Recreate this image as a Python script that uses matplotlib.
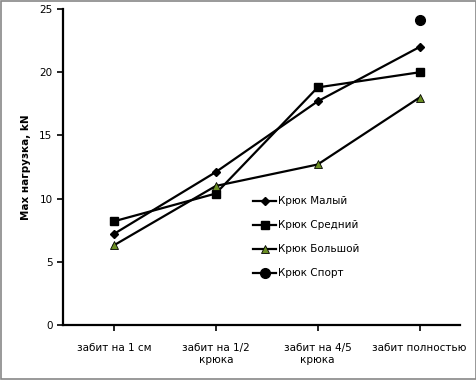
import matplotlib

matplotlib.use("Agg")
import matplotlib.pyplot as plt
from matplotlib.patches import Rectangle

plt.rcParams["font.family"] = ["DejaVu Sans"]

categories = ["забит на 1 см", "забит на 1/2\nкрюка", "забит на 4/5\nкрюка", "забит полностью"]
maly = [7.2, 12.1, 17.7, 22.0]
sredny = [8.2, 10.4, 18.8, 20.0]
bolshoy = [6.3, 11.0, 12.7, 18.0]
sport_idx = [3]
sport = [24.1]
yticks = [0, 5, 10, 15, 20, 25]

fig = plt.figure(figsize=(4.77, 3.8), dpi=100)
ax = fig.add_axes([0.132, 0.145, 0.833, 0.831])
x = list(range(len(categories)))

ax.plot(x, maly, "-", color="black", lw=1.6, marker="D", ms=4.2, label="Крюк Малый")
ax.plot(x, sredny, "-", color="black", lw=1.6, marker="s", ms=5.5, label="Крюк Средний")
ax.plot(x, bolshoy, "-", color="black", lw=1.6, marker="^", ms=5.5, mfc="#6b8e23",
        mec="black", mew=0.6, label="Крюк Большой")
ax.plot(sport_idx, sport, "-", color="black", lw=1.6, marker="o", ms=7, label="Крюк Спорт")

ax.set_xlim(-0.5, 3.4)
ax.set_ylim(0, 25)
ax.set_yticks(yticks)
ax.set_xticks(x, labels=categories)
ax.tick_params(axis="both", labelsize=7.5, direction="out", length=4, width=1.2)
ax.tick_params(axis="x", pad=9)
for s in ["top", "right"]:
    ax.spines[s].set_visible(False)
for s in ["left", "bottom"]:
    ax.spines[s].set_linewidth(1.6)
ax.set_ylabel("Max нагрузка, kN", fontsize=7.5, fontweight="bold", labelpad=6)

ax.legend(loc="upper left", bbox_to_anchor=(0.455, 0.437), frameon=False, fontsize=7.5,
          labelspacing=1.35, handlelength=2.2, handletextpad=0.2)

fig.patches.append(Rectangle((0.003, 0.003), 0.994, 0.994, transform=fig.transFigure,
                             fill=False, edgecolor="#888888", lw=1.2))
fig.savefig("out.png", dpi=100)
